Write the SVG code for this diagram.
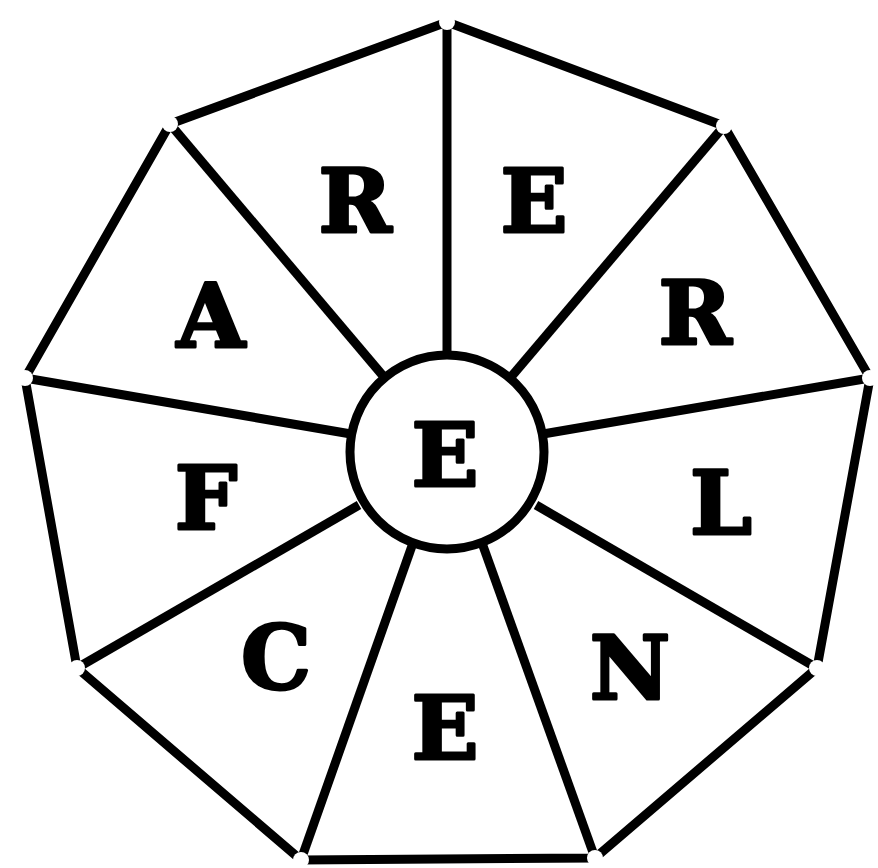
<svg xmlns="http://www.w3.org/2000/svg" width="878" height="868" viewBox="0 0 878 868">
<style>
.ln{stroke:#000;stroke-width:9;fill:none;stroke-linecap:butt;stroke-linejoin:miter}
.v{fill:#fff;stroke:none}
.t{font-family:"DejaVu Serif","Liberation Serif",serif;font-weight:bold;font-size:88px;fill:#000;stroke:#000;stroke-width:3;stroke-linejoin:round;text-anchor:middle}
</style>
<rect width="878" height="868" fill="#fff"/>
<g id="connectors">
<polygon class="ln" points="447,22 724,126 870,378 817,668 595,858 301,860 77,668 25,378 170,124"/>
<line class="ln" x1="447" y1="22" x2="447" y2="354"/>
<line class="ln" x1="724" y1="126" x2="511" y2="377"/>
<line class="ln" x1="870" y1="378" x2="543" y2="434"/>
<line class="ln" x1="817" y1="668" x2="536" y2="505"/>
<line class="ln" x1="595" y1="858" x2="482" y2="543"/>
<line class="ln" x1="301" y1="860" x2="413" y2="543"/>
<line class="ln" x1="77" y1="668" x2="359" y2="505"/>
<line class="ln" x1="25" y1="378" x2="351" y2="434"/>
<line class="ln" x1="170" y1="124" x2="384" y2="377"/>
</g>
<g id="vertices">
<circle class="v" cx="447" cy="22" r="8"/>
<circle class="v" cx="724" cy="126" r="8"/>
<circle class="v" cx="870" cy="378" r="8"/>
<circle class="v" cx="817" cy="668" r="8"/>
<circle class="v" cx="595" cy="858" r="8"/>
<circle class="v" cx="301" cy="860" r="8"/>
<circle class="v" cx="77" cy="668" r="8"/>
<circle class="v" cx="25" cy="378" r="8"/>
<circle class="v" cx="170" cy="124" r="8"/>
</g>
<g id="center">
<circle cx="447" cy="452" r="97" fill="#fff" stroke="#000" stroke-width="9"/>
<text class="t" x="445" y="486">E</text>
</g>
<g id="seg-R1"><text class="t" x="355" y="232">R</text></g>
<g id="seg-E1"><text class="t" x="534" y="232">E</text></g>
<g id="seg-R2"><text class="t" x="695" y="344">R</text></g>
<g id="seg-L"><text class="t" x="721" y="534">L</text></g>
<g id="seg-N"><text class="t" x="630" y="699">N</text></g>
<g id="seg-E2"><text class="t" x="445" y="759">E</text></g>
<g id="seg-C"><text class="t" x="276" y="689">C</text></g>
<g id="seg-F"><text class="t" x="206" y="529">F</text></g>
<g id="seg-A"><text class="t" x="211" y="347">A</text></g>
</svg>
